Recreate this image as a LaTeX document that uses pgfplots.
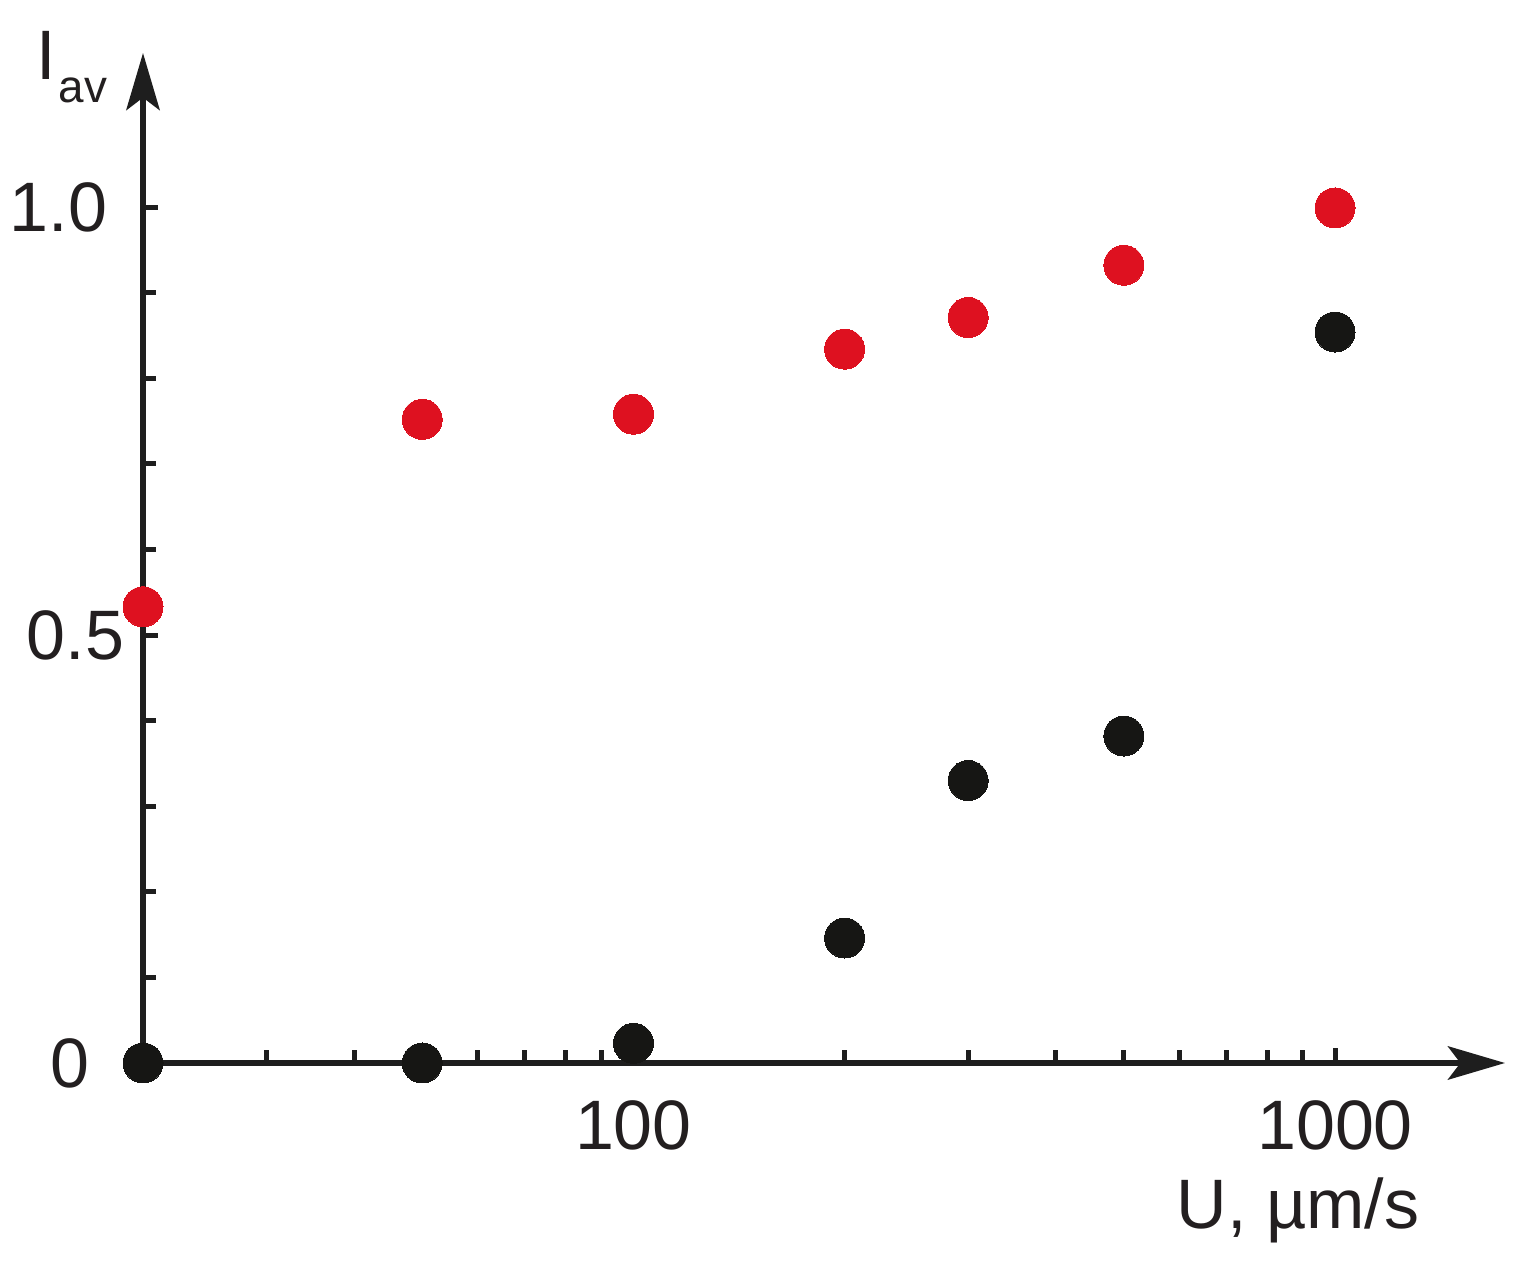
\documentclass[border=0pt]{standalone}
\usepackage{fontspec}
\setmainfont{Liberation Sans}
\usepackage{pgfplots}
\pgfplotsset{compat=1.18}
\usetikzlibrary{arrows.meta}
\definecolor{myred}{RGB}{222,17,32}
\definecolor{myblack}{RGB}{22,22,20}
\definecolor{axcol}{RGB}{30,30,30}
\definecolor{txtcol}{RGB}{35,31,32}
\begin{document}
\begin{tikzpicture}
\useasboundingbox (0,0) rectangle (367.2pt,302.64pt);
\begin{axis}[
  at={(34.32pt,47.52pt)}, anchor=south west,
  scale only axis, width=326.88pt, height=242.4pt,
  xmode=log, xmin=20, xmax=1747, ymin=0, ymax=1.18,
  axis lines=left,
  axis line style={-{Stealth[length=13.7pt,width=8pt,inset=3pt]}, line width=1.4pt, color=axcol},
  tick align=inside,
  major tick length=3.6pt, minor tick length=3.2pt,
  every tick/.style={line width=1.2pt, color=axcol},
  xtick={100,1000}, xticklabels={100,1000},
  minor xtick={30,40,50,60,70,80,90,200,300,400,500,600,700,800,900},
  ytick={0,0.5,1}, yticklabels={0\rule{8.4pt}{0pt},0.5,1.0\rule{4.08pt}{0pt}},
  minor ytick={0.1,0.2,0.3,0.4,0.6,0.7,0.8,0.9},
  tick label style={font=\fontsize{16.8}{20}\selectfont, color=txtcol, inner sep=0pt},
  xticklabel style={anchor=north, yshift=-8.9pt},
  yticklabel style={anchor=east, xshift=-4.32pt},
  ylabel={I\kern0.6pt\raisebox{-5.5pt}{\fontsize{11}{11}\selectfont av}},
  ylabel style={rotate=-90, at={(axis description cs:-0.0786,0.974)}, anchor=base west, inner sep=0pt, font=\fontsize{16.8}{20}\selectfont, color=txtcol},
  xlabel={U, µm/s},
  xlabel style={at={(axis description cs:0.7584,-0.1634)}, anchor=base west, inner sep=0pt, font=\fontsize{16.8}{20}\selectfont, color=txtcol},
  clip=false,
]
\addplot[only marks, mark=*, mark size=4.8pt, color=myblack, mark options={fill=myblack, draw=myblack, line width=0pt}]
  coordinates {(20,0) (50,0) (100,0.023) (200,0.146) (300,0.330) (500,0.382) (1000,0.854)};
\addplot[only marks, mark=*, mark size=4.8pt, color=myred, mark options={fill=myred, draw=myred, line width=0pt}]
  coordinates {(20,0.533) (50,0.752) (100,0.758) (200,0.834) (300,0.871) (500,0.932) (1000,0.999)};
\end{axis}
\end{tikzpicture}
\end{document}
